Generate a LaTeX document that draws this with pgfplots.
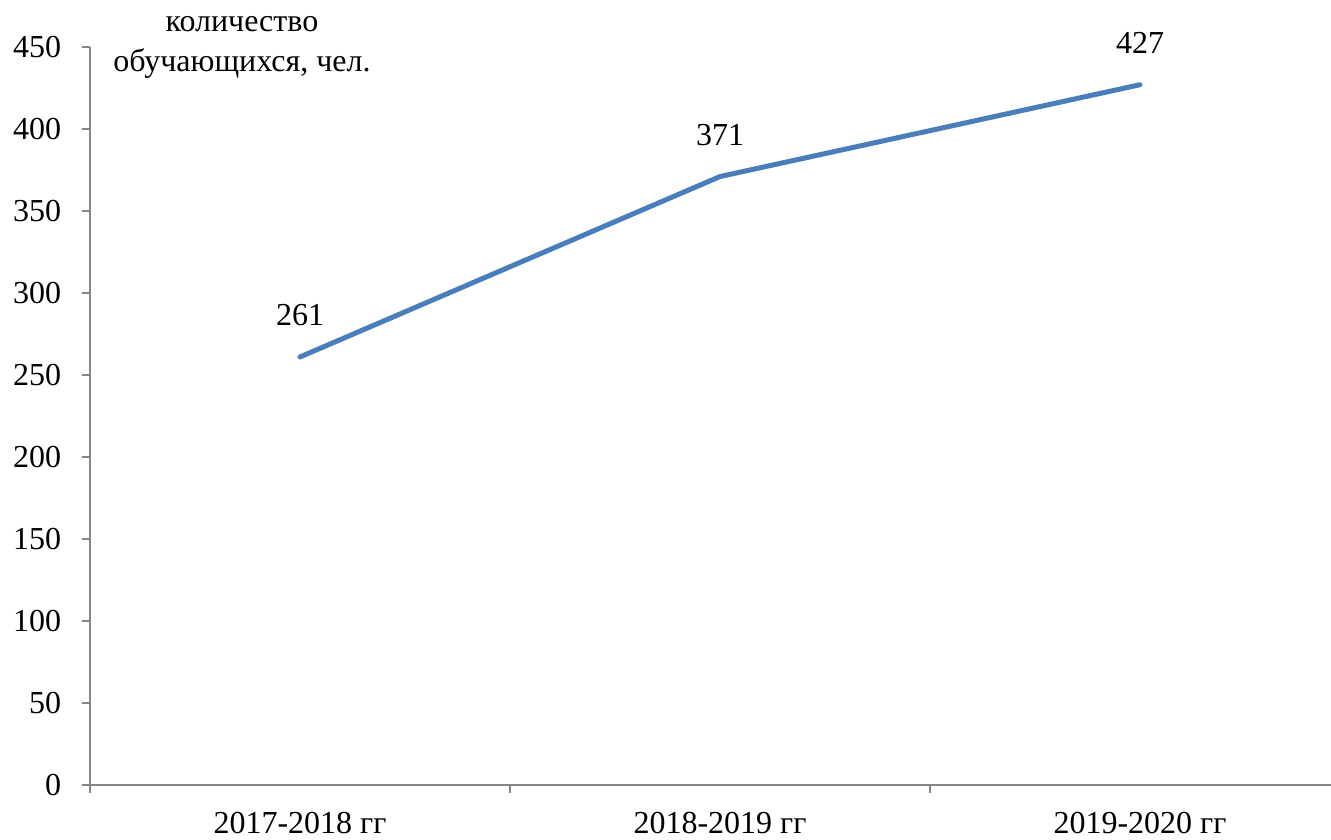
\documentclass[border=0pt]{standalone}
\usepackage{pgfplots}
\pgfplotsset{compat=1.18}
\usepackage{fontspec}
\setmainfont{Liberation Serif}
\definecolor{lineblue}{RGB}{74,126,187}
\definecolor{axisgray}{RGB}{134,134,134}
\begin{document}
\fontsize{32}{38}\selectfont
\begin{tikzpicture}[x=1pt,y=1pt]
\useasboundingbox (0,0) rectangle (1331,840);
\begin{axis}[
    at={(90pt,55pt)}, anchor=south west,
    scale only axis, width=1260pt, height=738pt,
    xmin=-0.5, xmax=2.5,
    ymin=0, ymax=450,
    axis x line*=bottom, axis y line*=left,
    axis line style={axisgray, line width=1.2pt},
    tick align=outside,
    major tick length=8pt,
    tick style={axisgray, line width=1.2pt},
    xtick={0,1,2},
    xticklabels={2017-2018 гг, 2018-2019 гг, 2019-2020 гг},
    x tick style={draw=none},
    x tick label style={yshift=-8pt},
    extra x ticks={-0.5,0.5,1.5},
    extra x tick labels={},
    extra x tick style={x tick style={draw=axisgray, line width=1.2pt}},
    ytick={0,50,...,450},
    yticklabel style={xshift=-10pt},
    /pgf/number format/assume math mode=true,
    tick label style={font=\fontsize{32}{38}\selectfont},
    clip=false,
]
\addplot[color=lineblue, line width=5pt, line join=round, line cap=round,
    nodes near coords, every node near coord/.style={anchor=south, yshift=18pt,
    font=\fontsize{32}{38}\selectfont, text=black}]
  coordinates {(0,261) (1,371) (2,427)};
\node[align=center, font=\fontsize{32}{40}\selectfont] at (axis description cs:0.1206,1.0)
  {количество\\обучающихся, чел.};
\end{axis}
\end{tikzpicture}
\end{document}
